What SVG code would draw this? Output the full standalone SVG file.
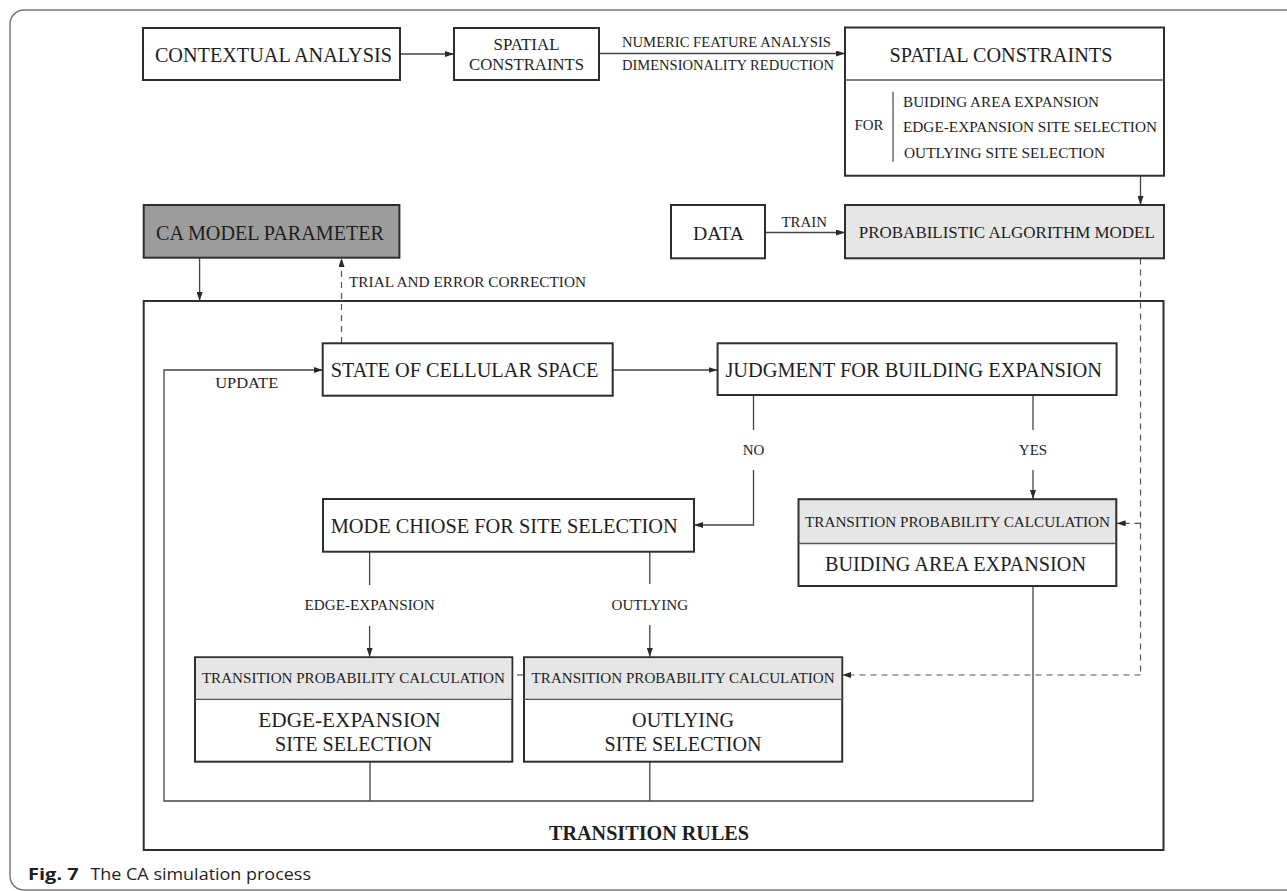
<svg xmlns="http://www.w3.org/2000/svg" width="1287" height="891" viewBox="0 0 1287 891">
<defs>
<marker id="ah" markerUnits="userSpaceOnUse" markerWidth="9" markerHeight="6" refX="9" refY="3" orient="auto">
<path d="M0,0 L9,3 L0,6 z" fill="#2a2a2a"/>
</marker>
</defs>
<style>
.box{fill:#fff;stroke:#2e2e2e;stroke-width:2}
.gray{fill:#e6e6e6}
.dark{fill:#9c9c9c}
.div{stroke:#555;stroke-width:1.3;fill:none}
.ln{stroke:#444;stroke-width:1.3;fill:none}
.dash{stroke:#555;stroke-width:1.2;fill:none;stroke-dasharray:6 5}
text{font-family:"Liberation Serif","Times New Roman",serif;fill:#1e1e1e}
.c{text-anchor:middle}
.t20{font-size:20px}
.t15{font-size:15px}
</style>
<rect width="1287" height="891" fill="#fff"/>
<path d="M1290,10 H24 A14,14 0 0 0 10,24 V876 A14,14 0 0 0 24,890 H1290" fill="none" stroke="#7a7a7a" stroke-width="1.5"/>

<g id="connectors">
<line class="ln" x1="400" y1="54" x2="454" y2="54" marker-end="url(#ah)"/>
<line class="ln" x1="599" y1="53.5" x2="845" y2="53.5" marker-end="url(#ah)"/>
<line class="ln" x1="1140.5" y1="176" x2="1140.5" y2="205" marker-end="url(#ah)"/>
<line class="ln" x1="765" y1="232.5" x2="845" y2="232.5" marker-end="url(#ah)"/>
<line class="ln" x1="199.6" y1="258" x2="199.6" y2="301" marker-end="url(#ah)"/>
<line class="dash" x1="341.5" y1="343" x2="341.5" y2="258" marker-end="url(#ah)"/>
<polyline class="ln" points="1033,586 1033,801 164,801 164,370 322.7,370" marker-end="url(#ah)"/>
<line class="ln" x1="612.7" y1="370" x2="717.6" y2="370" marker-end="url(#ah)"/>
<line class="ln" x1="753.5" y1="395" x2="753.5" y2="430"/>
<polyline class="ln" points="753.5,470 753.5,525 694,525" marker-end="url(#ah)"/>
<line class="ln" x1="1033" y1="395" x2="1033" y2="430"/>
<line class="ln" x1="1033" y1="470" x2="1033" y2="499" marker-end="url(#ah)"/>
<line class="ln" x1="369.6" y1="551.7" x2="369.6" y2="585"/>
<line class="ln" x1="369.6" y1="626" x2="369.6" y2="657" marker-end="url(#ah)"/>
<line class="ln" x1="649.8" y1="551.7" x2="649.8" y2="584"/>
<line class="ln" x1="649.8" y1="625" x2="649.8" y2="657" marker-end="url(#ah)"/>
<line class="ln" x1="370" y1="761.7" x2="370" y2="801"/>
<line class="ln" x1="649.8" y1="761.7" x2="649.8" y2="801"/>
<line class="dash" x1="1140.5" y1="258.5" x2="1140.5" y2="675"/>
<line class="dash" x1="1140.5" y1="523.3" x2="1116.6" y2="523.3" marker-end="url(#ah)"/>
<line class="dash" x1="1140.5" y1="675" x2="842.2" y2="675" marker-end="url(#ah)"/>
<line class="dash" x1="523" y1="675" x2="513" y2="675" stroke-dasharray="3 3"/>
</g>

<g id="transition-rules">
<rect class="box" x="143.7" y="301" width="1019.8" height="549" fill="none" style="fill:none"/>
<text x="649" y="840" class="c" font-size="20" font-weight="bold" textLength="200" lengthAdjust="spacingAndGlyphs">TRANSITION RULES</text>
</g>

<g id="contextual-analysis">
<rect class="box" x="143" y="28" width="257" height="52"/>
<text x="273.4" y="62" class="c" font-size="21" textLength="237" lengthAdjust="spacingAndGlyphs">CONTEXTUAL ANALYSIS</text>
</g>

<g id="spatial-constraints-small">
<rect class="box" x="454" y="28" width="145" height="52"/>
<text x="526.5" y="49.5" class="c" font-size="17" textLength="66" lengthAdjust="spacingAndGlyphs">SPATIAL</text>
<text x="526.5" y="69.5" class="c" font-size="17" textLength="115" lengthAdjust="spacingAndGlyphs">CONSTRAINTS</text>
</g>

<g id="edge-label-numeric">
<text x="622" y="46.7" font-size="14.5" textLength="209" lengthAdjust="spacingAndGlyphs">NUMERIC FEATURE ANALYSIS</text>
<text x="622" y="70" font-size="14.5" textLength="212" lengthAdjust="spacingAndGlyphs">DIMENSIONALITY REDUCTION</text>
</g>

<g id="spatial-constraints-big">
<rect class="box" x="845" y="27.5" width="319" height="148.2"/>
<line class="div" x1="845" y1="80" x2="1164" y2="80"/>
<text x="1001" y="61.7" class="c" font-size="21" textLength="223" lengthAdjust="spacingAndGlyphs">SPATIAL CONSTRAINTS</text>
<line class="div" x1="893" y1="91.7" x2="893" y2="161.7"/>
<text x="854.5" y="130" class="t15" textLength="29" lengthAdjust="spacingAndGlyphs">FOR</text>
<text x="903" y="106.7" class="t15" textLength="196" lengthAdjust="spacingAndGlyphs">BUIDING AREA EXPANSION</text>
<text x="903" y="131.7" class="t15" textLength="254" lengthAdjust="spacingAndGlyphs">EDGE-EXPANSION SITE SELECTION</text>
<text x="904" y="158.3" class="t15" textLength="201" lengthAdjust="spacingAndGlyphs">OUTLYING SITE SELECTION</text>
</g>

<g id="ca-model-parameter">
<rect class="box dark" x="143.7" y="205" width="255.7" height="52.7"/>
<text x="270" y="240" class="c t20" textLength="228" lengthAdjust="spacingAndGlyphs">CA MODEL PARAMETER</text>
</g>

<g id="data">
<rect class="box" x="671" y="205" width="94" height="53.3"/>
<text x="718.4" y="240" class="c" font-size="19" textLength="51" lengthAdjust="spacingAndGlyphs">DATA</text>
</g>

<g id="edge-labels">
<text x="804.2" y="226.7" class="c t15" textLength="45.5" lengthAdjust="spacingAndGlyphs">TRAIN</text>
<text x="349" y="286.7" class="t15" textLength="237" lengthAdjust="spacingAndGlyphs">TRIAL AND ERROR CORRECTION</text>
<text x="246.7" y="388" class="c t15" textLength="63" lengthAdjust="spacingAndGlyphs">UPDATE</text>
<text x="753.5" y="455" class="c t15">NO</text>
<text x="1033" y="455" class="c t15">YES</text>
<text x="369.6" y="610" class="c t15" textLength="130" lengthAdjust="spacingAndGlyphs">EDGE-EXPANSION</text>
<text x="649.8" y="610" class="c t15" textLength="76.5" lengthAdjust="spacingAndGlyphs">OUTLYING</text>
</g>

<g id="probabilistic-model">
<rect class="box gray" x="845" y="205" width="319" height="53.3"/>
<text x="1006.8" y="238.3" class="c" font-size="17" textLength="296" lengthAdjust="spacingAndGlyphs">PROBABILISTIC ALGORITHM MODEL</text>
</g>

<g id="state-of-cellular-space">
<rect class="box" x="322.7" y="343.3" width="290" height="52.4"/>
<text x="464.5" y="376.7" class="c t20" textLength="267.6" lengthAdjust="spacingAndGlyphs">STATE OF CELLULAR SPACE</text>
</g>

<g id="judgment">
<rect class="box" x="717.6" y="343.3" width="399" height="51.7"/>
<text x="913.7" y="376.7" class="c t20" textLength="376.6" lengthAdjust="spacingAndGlyphs">JUDGMENT FOR BUILDING EXPANSION</text>
</g>

<g id="mode-choise">
<rect class="box" x="323" y="499" width="371" height="52.7"/>
<text x="504.2" y="533.3" class="c t20" textLength="347" lengthAdjust="spacingAndGlyphs">MODE CHIOSE FOR SITE SELECTION</text>
</g>

<g id="building-area-expansion">
<rect class="gray" x="798.5" y="499.2" width="317.8" height="44.3"/>
<rect class="box" x="798.5" y="499.2" width="317.8" height="86.8" style="fill:none"/>
<line class="div" x1="798.5" y1="543.5" x2="1116.3" y2="543.5"/>
<text x="957.5" y="527.3" class="c" font-size="15.5" textLength="305" lengthAdjust="spacingAndGlyphs">TRANSITION PROBABILITY CALCULATION</text>
<text x="955.5" y="571.3" class="c t20" textLength="261" lengthAdjust="spacingAndGlyphs">BUIDING AREA EXPANSION</text>
</g>

<g id="edge-expansion-site">
<rect class="box" x="195" y="657.3" width="317.3" height="104.4"/>
<rect class="gray" x="196" y="658.3" width="315.3" height="41"/>
<line class="div" x1="195" y1="699.3" x2="512.3" y2="699.3"/>
<text x="353.4" y="683.3" class="c" font-size="15.5" textLength="303" lengthAdjust="spacingAndGlyphs">TRANSITION PROBABILITY CALCULATION</text>
<text x="349.5" y="727.3" class="c" font-size="20.5" textLength="182.4" lengthAdjust="spacingAndGlyphs">EDGE-EXPANSION</text>
<text x="353.5" y="751" class="c" font-size="20.5" textLength="157" lengthAdjust="spacingAndGlyphs">SITE SELECTION</text>
</g>

<g id="outlying-site">
<rect class="box" x="524" y="657.3" width="318.2" height="104.4"/>
<rect class="gray" x="525" y="658.3" width="316.2" height="41"/>
<line class="div" x1="524" y1="699.3" x2="842.2" y2="699.3"/>
<text x="683.1" y="683.3" class="c" font-size="15.5" textLength="303" lengthAdjust="spacingAndGlyphs">TRANSITION PROBABILITY CALCULATION</text>
<text x="683.1" y="727.3" class="c" font-size="20.5" textLength="102" lengthAdjust="spacingAndGlyphs">OUTLYING</text>
<text x="683.1" y="751" class="c" font-size="20.5" textLength="157" lengthAdjust="spacingAndGlyphs">SITE SELECTION</text>
</g>

<g id="caption">
<text x="28" y="880" font-family="'Open Sans','Noto Sans',sans-serif" font-size="16.5" font-weight="bold" style="font-family:'Open Sans','Noto Sans',sans-serif" textLength="50.8" lengthAdjust="spacingAndGlyphs">Fig. 7</text>
<text x="90.4" y="880" font-size="16.5" style="font-family:'Open Sans','Noto Sans',sans-serif" textLength="220.6" lengthAdjust="spacingAndGlyphs">The CA simulation process</text>
</g>
</svg>
